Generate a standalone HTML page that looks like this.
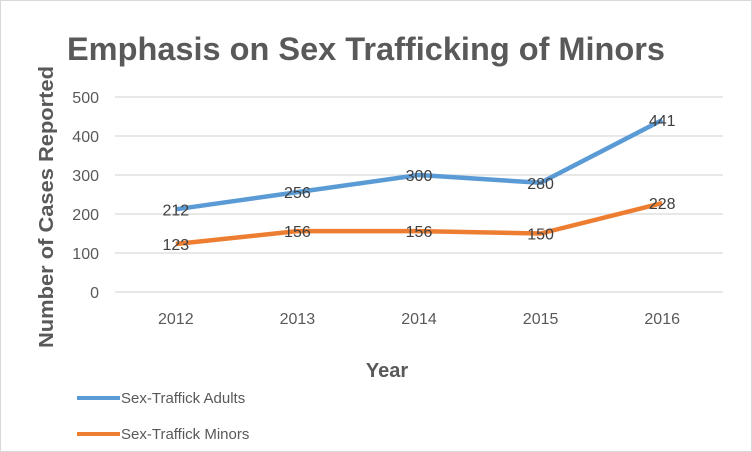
<!DOCTYPE html>
<html><head><meta charset="utf-8"><style>
body{margin:0;background:#fff;}
svg{display:block;font-family:"Liberation Sans",sans-serif;}
</style></head><body>
<svg id="chart" width="752" height="452" viewBox="0 0 752 452">
<rect x="0.5" y="0.5" width="751" height="451" fill="#fff" stroke="#d9d9d9"/>
<text x="366" y="60" text-anchor="middle" font-size="32" font-weight="bold" fill="#595959" textLength="598" lengthAdjust="spacingAndGlyphs">Emphasis on Sex Trafficking of Minors</text>
<g id="grid"></g>
<g id="series"></g>
<text transform="translate(53,207) rotate(-90)" text-anchor="middle" font-size="20" font-weight="bold" fill="#595959" textLength="282" lengthAdjust="spacingAndGlyphs">Number of Cases Reported</text>
<text x="387" y="377" text-anchor="middle" font-size="20" font-weight="bold" fill="#595959">Year</text>
<g><line x1="77" y1="398" x2="120" y2="398" stroke="#5b9bd5" stroke-width="4"/><text x="121" y="403" font-size="15" fill="#595959">Sex-Traffick Adults</text></g>
<g><line x1="77" y1="434" x2="120" y2="434" stroke="#ed7d31" stroke-width="4"/><text x="121" y="439" font-size="15" fill="#595959">Sex-Traffick Minors</text></g>
</svg>
<script>
const categories=["2012","2013","2014","2015","2016"];
const adults=[212,256,300,280,441];
const minors=[123,156,156,150,228];
const yTicks=[0,100,200,300,400,500];
const NS="http://www.w3.org/2000/svg";
const x0=115,x1=723,yTop=97,yBot=292,yMax=500;
const xs=i=>x0+(x1-x0)*(i+0.5)/categories.length;
const ys=v=>yBot-(yBot-yTop)*v/yMax;
function mk(t,a,p){const e=document.createElementNS(NS,t);for(const k in a)e.setAttribute(k,a[k]);p.appendChild(e);return e;}
const grid=document.getElementById('grid'),ser=document.getElementById('series');
yTicks.forEach(v=>{
 const l=mk('line',{x1:x0,x2:x1,y1:ys(v),y2:ys(v),stroke:'#d9d9d9','stroke-width':1.3},grid);
 
 
 const t=mk('text',{x:99,y:ys(v)+6,'text-anchor':'end','font-size':16,fill:'#595959'},grid);t.textContent=v;
 
 
});
categories.forEach((c,i)=>{
 const t=mk('text',{x:xs(i),y:324,'text-anchor':'middle','font-size':16,fill:'#595959'},grid);t.textContent=c;
 
 
});
[[adults,'#5b9bd5','adults'],[minors,'#ed7d31','minors']].forEach(([d,col,n])=>{
 const p=mk('polyline',{points:d.map((v,i)=>xs(i)+','+ys(v)).join(' '),fill:'none',stroke:col,'stroke-width':4.5,'stroke-linejoin':'round'},ser);
 
 
 d.forEach((v,i)=>{
  const t=mk('text',{x:xs(i),y:ys(v)+6,'text-anchor':'middle','font-size':16,fill:'#404040'},ser);t.textContent=v;
  
  
 });
});
</script>
</body></html>
